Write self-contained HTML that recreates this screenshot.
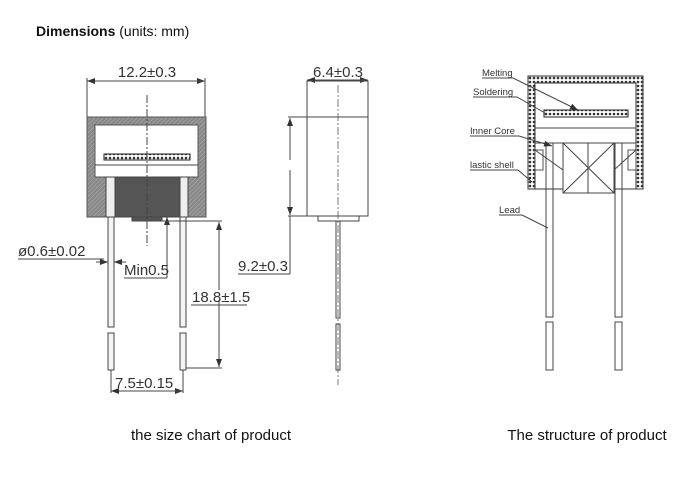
<!DOCTYPE html>
<html><head><style>
html,body{margin:0;padding:0;background:#fff;}
body{width:692px;height:493px;overflow:hidden;position:relative;font-family:"Liberation Sans",sans-serif;}
svg{position:absolute;left:0;top:0;}
.d{font-family:"Liberation Sans",sans-serif;font-size:15px;fill:#333;}
.l{font-family:"Liberation Sans",sans-serif;font-size:9.5px;fill:#333;}
</style></head><body>
<svg width="692" height="493" viewBox="0 0 692 493">
<defs>
<pattern id="h" width="3" height="3" patternUnits="userSpaceOnUse" patternTransform="rotate(45)"><rect width="3" height="3" fill="#8a8a8a"/><line x1="0" y1="0" x2="0" y2="3" stroke="#aaa" stroke-width="1"/></pattern>
<pattern id="x" width="4" height="4" patternUnits="userSpaceOnUse"><rect width="4" height="4" fill="#fff"/><circle cx="2" cy="2" r="1.3" fill="#333"/></pattern>
<marker id="a" markerWidth="8" markerHeight="6" refX="8" refY="3" orient="auto"><path d="M0,0 L8,3 L0,6 z" fill="#333"/></marker>
</defs>
<text x="36" y="36" font-size="14" font-weight="bold" fill="#111" font-family="Liberation Sans">Dimensions <tspan font-weight="normal">(units: mm)</tspan></text>

<g stroke="#444" stroke-width="1" fill="none">
<line x1="87" y1="78" x2="87" y2="117"/><line x1="205" y1="78" x2="205" y2="117"/>
<line x1="87" y1="81" x2="205" y2="81" marker-end="url(#a)"/><line x1="205" y1="81" x2="87" y2="81" marker-end="url(#a)"/>
<rect x="87" y="117" width="119" height="100" fill="url(#h)" stroke="#555"/>
<rect x="95" y="125" width="103" height="52" fill="#fff" stroke="#555"/>
<line x1="95" y1="165" x2="198" y2="165"/>
<rect x="115" y="177" width="65" height="40" fill="#555" stroke="#444"/>
<rect x="132" y="217" width="30" height="4" fill="#555"/>
<rect x="106" y="177" width="9" height="40" fill="#eee"/><rect x="180" y="177" width="8" height="40" fill="#eee"/>
<rect x="104" y="154" width="86" height="6" fill="url(#x)" stroke="#222"/>
<rect x="108" y="217" width="6" height="110" fill="#f4f4f4"/><rect x="108" y="333" width="6" height="37" fill="#f4f4f4"/>
<rect x="180" y="217" width="6" height="110" fill="#f4f4f4"/><rect x="180" y="333" width="6" height="37" fill="#f4f4f4"/>
<line x1="147" y1="95" x2="147" y2="246" stroke-dasharray="8,2,2,2"/>
<line x1="18" y1="259" x2="104" y2="259"/>
<line x1="96" y1="262" x2="108" y2="262" marker-end="url(#a)"/><line x1="126" y1="262" x2="114" y2="262" marker-end="url(#a)"/>
<line x1="124" y1="278" x2="167" y2="278"/><line x1="167" y1="278" x2="167" y2="217" marker-end="url(#a)"/>
<line x1="162" y1="221" x2="222" y2="221"/><line x1="186" y1="368" x2="222" y2="368"/>
<line x1="219" y1="290" x2="219" y2="222" marker-end="url(#a)"/><line x1="219" y1="300" x2="219" y2="367" marker-end="url(#a)"/>
<line x1="191" y1="305" x2="247" y2="305"/>
<line x1="111" y1="370" x2="111" y2="393"/><line x1="183" y1="370" x2="183" y2="393"/>
<line x1="111" y1="391" x2="183" y2="391" marker-end="url(#a)"/><line x1="183" y1="391" x2="111" y2="391" marker-end="url(#a)"/>
<line x1="307" y1="80" x2="368" y2="80" marker-end="url(#a)"/><line x1="368" y1="80" x2="307" y2="80" marker-end="url(#a)"/>
<rect x="307" y="81" width="61" height="135"/><line x1="307" y1="117" x2="368" y2="117"/>
<rect x="318" y="216" width="41" height="5"/>
<rect x="336" y="221" width="4" height="97"/><rect x="336" y="324" width="4" height="46"/>
<line x1="338" y1="85" x2="338" y2="385" stroke-dasharray="8,2,2,2" stroke-width="0.7"/>
<line x1="288" y1="117" x2="307" y2="117"/><line x1="288" y1="216" x2="307" y2="216"/>
<line x1="290" y1="160" x2="290" y2="118" marker-end="url(#a)"/><line x1="290" y1="170" x2="290" y2="215" marker-end="url(#a)"/>
<line x1="290" y1="216" x2="290" y2="274"/><line x1="238" y1="274" x2="290" y2="274"/>
<rect x="528" y="76" width="115" height="113" fill="url(#x)" stroke="#333"/>
<rect x="535" y="83" width="101" height="106" fill="#fff" stroke="#333"/>
<rect x="535" y="150" width="8" height="20" fill="#fff" stroke="#555"/><rect x="628" y="150" width="8" height="20" fill="#fff" stroke="#555"/>
<rect x="544" y="110" width="84" height="7" fill="url(#x)" stroke="#222"/>
<line x1="535" y1="128" x2="636" y2="128"/><line x1="535" y1="143" x2="636" y2="143"/>
<rect x="563" y="143" width="51" height="50" fill="#fff"/>
<path d="M563,143 L614,193 M614,143 L563,193 M588,143 L588,193 M535,150 L563,170 M636,150 L614,170"/>
<rect x="546" y="143" width="7" height="174"/><rect x="546" y="322" width="7" height="48"/>
<rect x="615" y="143" width="7" height="174"/><rect x="615" y="322" width="7" height="48"/>
<path d="M482,78 L513,78 L578,110" marker-end="url(#a)"/>
<path d="M473,97 L517,97 L545,113"/>
<path d="M470,136 L519,136 L552,146" marker-end="url(#a)"/>
<path d="M470,170 L518,170 L532,182"/>
<path d="M499,215 L522,215 L548,228"/>
</g>

<text class="d" x="147" y="77" text-anchor="middle">12.2±0.3</text>
<text class="d" x="338" y="77" text-anchor="middle">6.4±0.3</text>
<text class="d" x="18" y="256">ø0.6±0.02</text>
<text class="d" x="124" y="275">Min0.5</text>
<text class="d" x="192" y="302">18.8±1.5</text>
<text class="d" x="238" y="271">9.2±0.3</text>
<text class="d" x="115" y="388">7.5±0.15</text>
<text class="l" x="482" y="76">Melting</text>
<text class="l" x="473" y="95">Soldering</text>
<text class="l" x="470" y="134">Inner Core</text>
<text class="l" x="470" y="168">lastic shell</text>
<text class="l" x="499" y="213">Lead</text>
<text x="211" y="440" font-size="15" text-anchor="middle" fill="#111" font-family="Liberation Sans">the size chart of product</text>
<text x="587" y="440" font-size="15" text-anchor="middle" fill="#111" font-family="Liberation Sans">The structure of product</text>
</svg>
</body></html>
